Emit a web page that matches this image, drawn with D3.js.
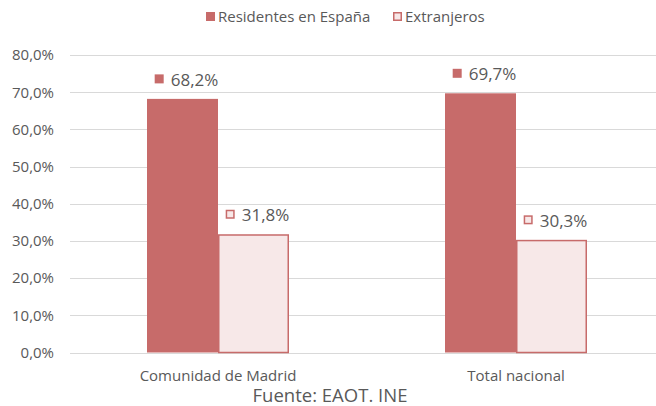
<!DOCTYPE html>
<html><head><meta charset="utf-8">
<script src="https://cdn.jsdelivr.net/npm/d3@7"></script>
<style>body{margin:0;background:#fff}svg{display:block}text{font-family:"Open Sans","Noto Sans",sans-serif;fill:#595959}</style>
</head><body><svg id="c" width="656" height="406"></svg>
<script>
const categories = ["Comunidad de Madrid", "Total nacional"];
const seriesNames = ["Residentes en España", "Extranjeros"];
const residentes = [68.2, 69.7];
const extranjeros = [31.8, 30.3];
const yTicks = [0, 10, 20, 30, 40, 50, 60, 70, 80];
const source = "Fuente: EAOT. INE";

const colors = {fill: ["#C76B6A", "#F7E8E8"], stroke: ["#C76B6A", "#C76B6A"]};
const svg = d3.select("#c");
const W = 656, H = 406;
const y = d3.scaleLinear().domain([0, 80]).range([352.5, 55]);
const x = d3.scaleBand().domain(categories).range([69, 665]).padding(0);
const barW = 71;
const fmt = v => d3.format(".1f")(v).replace(".", ",") + "%";

// gridlines
svg.append("g").selectAll("line").data(yTicks).join("line")
  .attr("x1", 70).attr("x2", W)
  .attr("y1", d => Math.round(y(d)) + 0.5).attr("y2", d => Math.round(y(d)) + 0.5)
  .attr("stroke", "#D9D9D9").attr("stroke-width", 1);

// y axis labels
const yAxis = d3.axisLeft(y).tickValues(yTicks).tickSize(0).tickPadding(0).tickFormat(fmt);
const ga = svg.append("g").attr("transform", "translate(54,0)").call(yAxis);
ga.select(".domain").remove();
ga.selectAll("text").attr("font-size", 15).attr("fill", "#595959").style("font-family", '"Open Sans","Noto Sans",sans-serif');

const series = [residentes, extranjeros];
series.forEach((vals, si) => {
  const g = svg.append("g");
  g.selectAll("rect").data(categories).join("rect")
    .attr("x", (c) => x(c) + x.bandwidth() / 2 - barW + si * barW + (si ? 0.75 : 0))
    .attr("width", si ? barW - 1.5 : barW)
    .attr("y", (c, i) => y(vals[i]) + (si ? 0.75 : 0))
    .attr("height", (c, i) => y(0) - y(vals[i]) - (si ? 0.75 : 0))
    .attr("fill", colors.fill[si])
    .attr("stroke", si ? colors.stroke[si] : "none")
    .attr("stroke-width", 1.5);
  // labels
  categories.forEach((c, i) => {
    const bc = x(c) + x.bandwidth() / 2 - barW / 2 + si * barW + 4;
    const by = y(vals[i]) - 13;
    const lg = g.append("g");
    const t = lg.append("text").attr("y", by).attr("font-size", 17).text(fmt(vals[i]));
    const tw = t.node().getComputedTextLength();
    const sx = bc - (16 + tw) / 2;
    t.attr("x", sx + 16);
    lg.append("rect").attr("x", sx + (si ? 0.75 : 0)).attr("y", by - 11.5 + (si ? 0.75 : 0))
      .attr("width", si ? 7.5 : 9).attr("height", si ? 7.5 : 9)
      .attr("fill", colors.fill[si]).attr("stroke", si ? colors.stroke[si] : "none").attr("stroke-width", 1.5);
  });
});

// category labels
svg.append("g").selectAll("text").data(categories).join("text")
  .attr("x", c => x(c) + x.bandwidth() / 2).attr("y", 381)
  .attr("text-anchor", "middle").attr("font-size", 15).text(c => c);

// legend
const leg = svg.append("g");
const legX = [206, 393];
seriesNames.forEach((n, si) => {
  leg.append("rect").attr("x", legX[si] + (si ? 0.75 : 0)).attr("y", 12 + (si ? 0.75 : 0))
    .attr("width", si ? 7.5 : 9).attr("height", si ? 7.5 : 9)
    .attr("fill", colors.fill[si]).attr("stroke", si ? colors.stroke[si] : "none").attr("stroke-width", 1.5);
  leg.append("text").attr("x", legX[si] + 12).attr("y", 21.5).attr("font-size", 15).text(n);
});

// source
svg.append("text").attr("x", 330).attr("y", 402).attr("text-anchor", "middle").attr("font-size", 18.5).text(source);
</script></body></html>
